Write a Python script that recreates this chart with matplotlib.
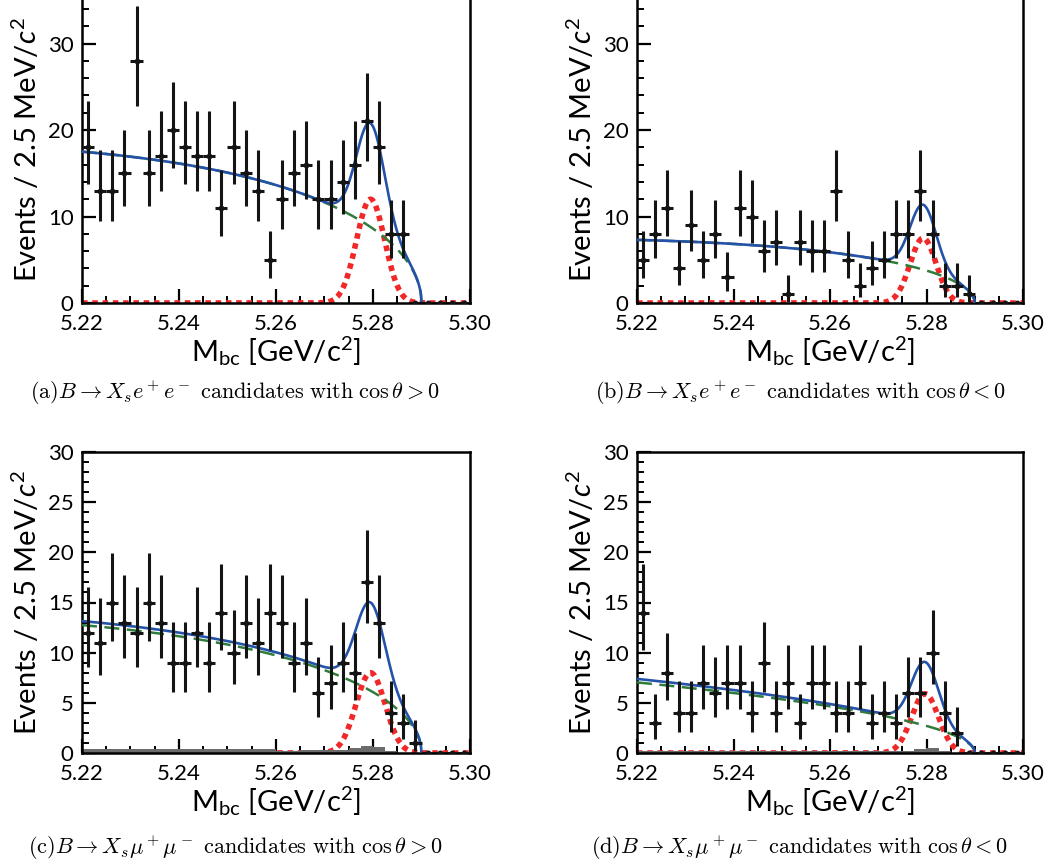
import numpy as np
import matplotlib
matplotlib.use('Agg')
import matplotlib.pyplot as plt
from matplotlib.ticker import MultipleLocator

plt.rcParams['font.family'] = ['Lato', 'DejaVu Sans']
plt.rcParams['mathtext.fontset'] = 'custom'
plt.rcParams['mathtext.rm'] = 'Lato'
plt.rcParams['mathtext.it'] = 'Lato:italic'
plt.rcParams['mathtext.bf'] = 'Lato:bold'

# histogram range / binning (GeV)
mbcLow = 5.22
mbcHigh = 5.30
endPoint = 5.29
nBins = 32

# events per 2.5 MeV bin
countsA = [18, 13, 13, 15, 28, 15, 17, 20, 18, 17, 17, 11, 18, 15, 13, 5,
           12, 15, 16, 12, 12, 14, 16, 21, 18, 8, 8, 0, 0, 0, 0, 0]
countsB = [5, 8, 11, 4, 9, 5, 8, 3, 11, 10, 6, 7, 1, 7, 6, 6,
           13, 5, 2, 4, 5, 8, 8, 13, 8, 2, 2, 1, 0, 0, 0, 0]
countsC = [12, 11, 15, 13, 12, 15, 13, 9, 9, 12, 9, 14, 10, 13, 11, 14,
           13, 9, 11, 6, 7, 9, 8, 17, 13, 4, 3, 1, 0, 0, 0, 0]
countsD = [14, 3, 8, 4, 4, 7, 6, 7, 7, 4, 9, 4, 7, 3, 7, 7,
           4, 4, 7, 3, 4, 3, 6, 6, 10, 4, 2, 0, 0, 0, 0, 0]

# grey (peaking background) histograms for the muon panels
greyC = [0.35] * 16 + [0.2, 0.2, 0.25, 0.25, 0.25, 0.25, 0.45, 0.7, 0.55, 0.15,
                       0, 0, 0, 0, 0, 0]
greyD = [0.15] * 22 + [0.2, 0.4, 0.45, 0.15, 0, 0, 0, 0, 0, 0]

# fit components
bkgAtLow = [17.5, 7.3, 12.75, 7.04]      # ARGUS value at 5.22
argusShape = [-11.0, -13.0, -9.6, 0.0]
sigPeak = [12.0, 7.5, 8.0, 5.9]
sigMean = [5.2795, 5.2793, 5.2795, 5.2797]
sigWidth = [0.0029, 0.0027, 0.0030, 0.0028]
pkLevel = [0.0, 0.0, 0.4, 0.35]
pkBump = [0.0, 0.0, 0.6, 0.3]

yMax = [35.5, 35.5, 30, 30]
captions = [
    r"$\mathrm{(a)}B \rightarrow X_s e^+e^-\ \mathrm{candidates\ with}\ \cos\theta > 0$",
    r"$\mathrm{(b)}B \rightarrow X_s e^+e^-\ \mathrm{candidates\ with}\ \cos\theta < 0$",
    r"$\mathrm{(c)}B \rightarrow X_s \mu^+\mu^-\ \mathrm{candidates\ with}\ \cos\theta > 0$",
    r"$\mathrm{(d)}B \rightarrow X_s \mu^+\mu^-\ \mathrm{candidates\ with}\ \cos\theta < 0$",
]
allCounts = [countsA, countsB, countsC, countsD]
allGrey = [None, None, greyC, greyD]


def argus(m, c):
    u = np.clip(1 - (m / endPoint) ** 2, 0, None)
    return m * np.sqrt(u) * np.exp(c * u)


def gauss(m, mu, s):
    return np.exp(-0.5 * ((m - mu) / s) ** 2)


def poissonErrors(n):
    n = np.asarray(n, dtype=float)
    lo = np.zeros_like(n)
    hi = np.zeros_like(n)
    k = n > 0
    lo[k] = n[k] - n[k] * (1 - 1 / (9 * n[k]) - 1 / (3 * np.sqrt(n[k]))) ** 3
    hi[k] = (n[k] + 1) * (1 - 1 / (9 * (n[k] + 1)) + 1 / (3 * np.sqrt(n[k] + 1))) ** 3 - n[k]
    return lo, hi


fig = plt.figure(figsize=(10.51, 8.67), dpi=100)
W, H = 1051.0, 867.0
# pixel boxes: left, right, bottom(px from top), top(px from top)
boxes = [(82, 470, 303, -4), (637, 1023, 303, -4),
         (82, 470, 753, 452), (637, 1023, 753, 452)]
captionX = [235, 800, 235, 800]
captionY = [393, 393, 848, 848]

edges = np.linspace(mbcLow, mbcHigh, nBins + 1)
centers = 0.5 * (edges[1:] + edges[:-1])
binW = edges[1] - edges[0]

for i in range(4):
    l, r, b, t = boxes[i]
    ax = fig.add_axes([l / W, 1 - b / H, (r - l) / W, (b - t) / H])
    ax.set_xlim(mbcLow, mbcHigh)
    ax.set_ylim(0, yMax[i])

    m = np.linspace(mbcLow, endPoint, 600)
    mAll = np.linspace(mbcLow, mbcHigh, 700)
    norm = bkgAtLow[i] / argus(mbcLow, argusShape[i])
    bkg = norm * argus(m, argusShape[i])
    pk = pkLevel[i] / argus(mbcLow, argusShape[i]) * argus(m, argusShape[i]) \
        + pkBump[i] * gauss(m, sigMean[i], sigWidth[i])
    sig = sigPeak[i] * gauss(mAll, sigMean[i], sigWidth[i])
    sigM = sigPeak[i] * gauss(m, sigMean[i], sigWidth[i])
    total = bkg + sigM + pk

    ax.plot(mAll, sig, color='#f02828', lw=4, linestyle=(0, (1, 0.85)), zorder=2)
    if allGrey[i] is not None:
        ax.stairs(allGrey[i], edges, fill=True, color='#6b6b6b', lw=0, zorder=2.5)
    ax.plot(m, bkg, color='#2f7d3a', lw=1.8, linestyle=(0, (6, 3)), zorder=3)
    ax.plot(m, total, color='#2352a8', lw=1.9, zorder=4)

    n = np.array(allCounts[i])
    lo, hi = poissonErrors(n)
    ax.errorbar(centers, n, yerr=[lo, hi], xerr=binW / 2, fmt='o', ms=3.2,
                color='#141414', elinewidth=2.2, capsize=0, zorder=5)

    major = 10 if i < 2 else 5
    minor = 2 if i < 2 else 1
    ax.yaxis.set_major_locator(MultipleLocator(major))
    ax.yaxis.set_minor_locator(MultipleLocator(minor))
    ax.xaxis.set_minor_locator(MultipleLocator(0.005))
    ax.set_xticks([5.22, 5.24, 5.26, 5.28, 5.30])
    ax.set_xticklabels(['5.22', '5.24', '5.26', '5.28', '5.30'])
    ax.tick_params(which='major', direction='in', length=10, width=1.6,
                   labelsize=16, right=False, top=False)
    ax.tick_params(axis='x', which='major', pad=8)
    ax.tick_params(axis='y', which='major', pad=6)
    ax.tick_params(which='minor', direction='in', length=5, width=1.4,
                   right=False, top=False)
    for s in ax.spines.values():
        s.set_linewidth(1.8)
    ax.set_ylabel(r"Events / 2.5 MeV/$c^2$", fontsize=21, labelpad=4)
    ax.set_xlabel(r"M$_{\mathrm{bc}}$ [GeV/c$^2$]", fontsize=21, labelpad=0)

    fig.text(captionX[i] / W, 1 - captionY[i] / H, captions[i],
             ha='center', va='center', fontsize=16, math_fontfamily='cm')

fig.savefig('out.png', dpi=100)
